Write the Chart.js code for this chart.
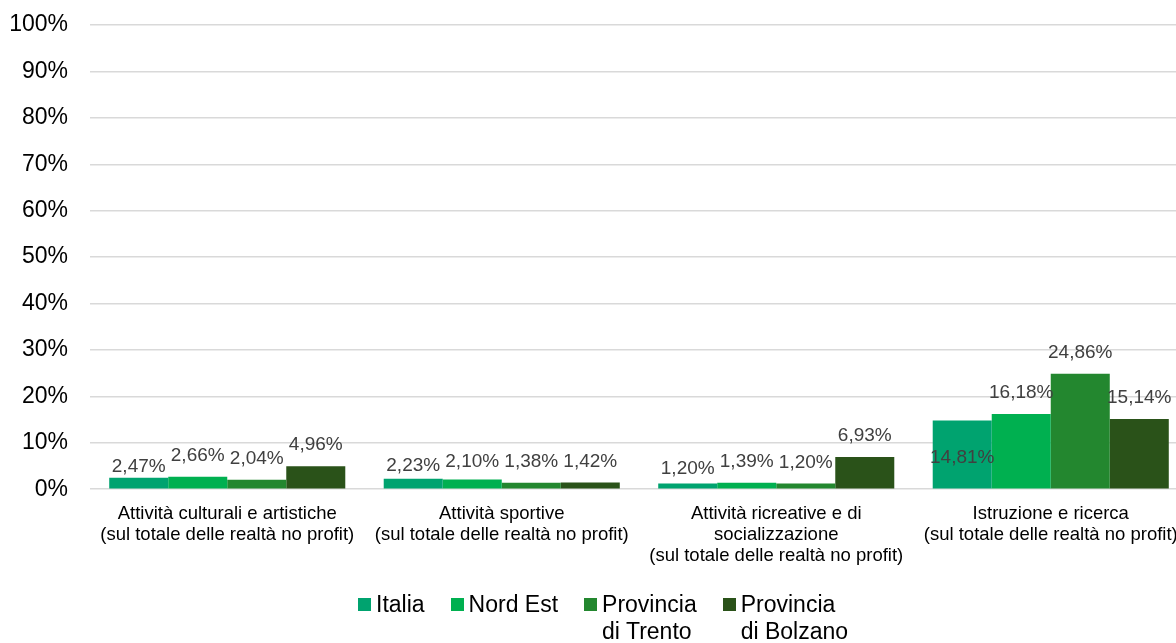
<!DOCTYPE html>
<html>
<head>
<meta charset="utf-8">
<script src="https://cdn.jsdelivr.net/npm/chart.js@4/dist/chart.umd.min.js"></script>
<style>
  html, body { margin: 0; padding: 0; background: #fff; overflow: hidden; }
  #wrap { position: relative; width: 1176px; height: 643px; overflow: hidden; }
  #legend {
    position: absolute; left: 358px; top: 591px;
    display: flex; font-family: "Liberation Sans", Arial, sans-serif;
    font-size: 23px; line-height: 27px; color: #000;
  }
  .item { display: flex; align-items: flex-start; margin-right: 26px; }
  .box { width: 13px; height: 13px; margin-top: 7px; margin-right: 5px; }
</style>
</head>
<body>
<div id="wrap">
  <!-- the original plot runs a little past the right edge of the picture -->
  <canvas id="chart" width="1188" height="643"></canvas>
  <div id="legend"></div>
</div>
<script>
const categories = [
    ['Attività culturali e artistiche', '(sul totale delle realtà no profit)'],
    ['Attività sportive', '(sul totale delle realtà no profit)'],
    ['Attività ricreative e di', 'socializzazione', '(sul totale delle realtà no profit)'],
    ['Istruzione e ricerca', '(sul totale delle realtà no profit)']
]
const seriesNames = ['Italia', 'Nord Est', 'Provincia\ndi Trento', 'Provincia\ndi Bolzano']
const italia = [2.47, 2.23, 1.20, 14.81]
const nordEst = [2.66, 2.10, 1.39, 16.18]
const trento = [2.04, 1.38, 1.20, 24.86]
const bolzano = [4.96, 1.42, 6.93, 15.14]
const yTicks = [0, 10, 20, 30, 40, 50, 60, 70, 80, 90, 100]

const colors = ['#00a36f', '#00b050', '#23872f', '#2a5219']
// label nudges (px down) where the original labels sat lower
const labelShift = [[10, 8, 6, 58], [0, 3, 0, 0], [0, 0, 0, 0], [0, 0, 0, 0]]

const font = '"Liberation Sans", Arial, sans-serif'

const valueLabels = {
    id: 'valueLabels',
    afterDatasetsDraw(chart){
        const ctx = chart.ctx
        ctx.save()
        ctx.font = '19px ' + font
        ctx.fillStyle = '#404040'
        ctx.textAlign = 'center'
        ctx.textBaseline = 'middle'
        chart.data.datasets.forEach((ds, i) => {
            chart.getDatasetMeta(i).data.forEach((bar, j) => {
                const txt = ds.data[j].toFixed(2).replace('.', ',') + '%'
                ctx.fillText(txt, bar.x, bar.y - 21 + labelShift[i][j])
            })
        })
        ctx.restore()
    }
}

const datasets = [italia, nordEst, trento, bolzano].map((d, i) => ({
    label: seriesNames[i],
    data: d,
    backgroundColor: colors[i],
    barPercentage: 1,
    categoryPercentage: 0.86
}))

new Chart(document.getElementById('chart'), {
    type: 'bar',
    data: { labels: categories, datasets: datasets },
    options: {
        responsive: false,
        animation: false,
        layout: { padding: { top: 25, right: 0, bottom: 70, left: 0 } },
        plugins: { legend: { display: false }, tooltip: { enabled: false } },
        scales: {
            x: {
                grid: { display: false },
                border: { display: false },
                afterFit: s => { s.paddingLeft = 0; s.paddingRight = 0 },
                ticks: {
                    color: '#000',
                    font: { family: font, size: 18.5, lineHeight: 1.15 },
                    padding: 6,
                    maxRotation: 0,
                    autoSkip: false
                }
            },
            y: {
                min: 0,
                max: 100,
                afterBuildTicks: s => { s.ticks = yTicks.map(v => ({ value: v })) },
                afterFit: s => { s.width = 90; s.paddingTop = 0; s.paddingBottom = 0 },
                grid: { color: '#d9d9d9', lineWidth: 1.5, drawTicks: false },
                border: { display: false },
                ticks: {
                    color: '#000',
                    padding: 22,
                    font: { family: font, size: 23 },
                    callback: v => v + '%'
                }
            }
        }
    },
    plugins: [valueLabels]
})

const legend = document.getElementById('legend')
seriesNames.forEach((name, i) => {
    const item = document.createElement('div')
    item.className = 'item'
    item.innerHTML = '<div class="box" style="background:' + colors[i] + '"></div><div>' +
        name.split('\n').join('<br>') + '</div>'
    legend.appendChild(item)
})
</script>
</body>
</html>
